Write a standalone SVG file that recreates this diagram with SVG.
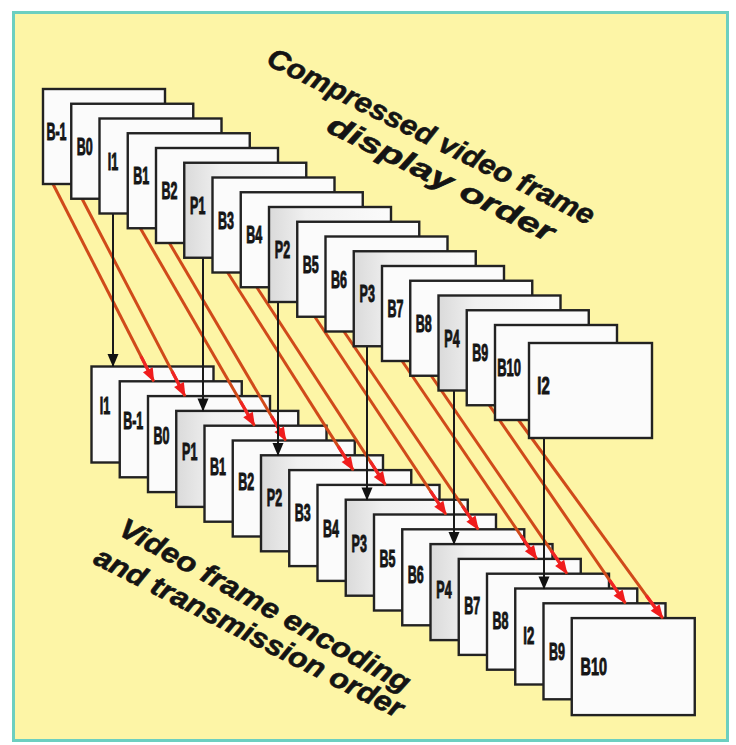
<svg xmlns="http://www.w3.org/2000/svg" width="736" height="745" viewBox="0 0 736 745">
<style>
.fr{fill:#fbfbfb;stroke:#222;stroke-width:2.4}
.fp{fill:url(#pg);stroke:#222;stroke-width:2.4}
.lb{font-family:"Liberation Sans",Arial,sans-serif;font-weight:bold;font-size:24px;fill:#151515;stroke:#151515;stroke-width:1;text-anchor:middle}
.ti{font-family:"Liberation Sans",Arial,sans-serif;font-weight:bold;font-style:italic;font-size:28px;fill:#141414;stroke:#141414;stroke-width:0.6}
.vb{stroke:#1a1a1a;stroke-width:2;marker-end:url(#ab)}
.rd{stroke:#d04a1a;stroke-width:3;marker-end:url(#ar)}
</style>
<defs>
<linearGradient id="pg" x1="0" y1="0" x2="1" y2="0">
<stop offset="0" stop-color="#dadada"/><stop offset="0.3" stop-color="#f0f0f0"/><stop offset="1" stop-color="#fbfbfb"/>
</linearGradient>
<marker id="ab" markerUnits="userSpaceOnUse" markerWidth="20" markerHeight="20" refX="0" refY="0" orient="auto" overflow="visible">
<path d="M1,0 L-12,-5.5 L-12,5.5 Z" fill="#111"/>
</marker>
<marker id="ar" markerUnits="userSpaceOnUse" markerWidth="30" markerHeight="20" refX="0" refY="0" orient="auto" overflow="visible">
<path d="M-28,-1.6 H-10 V1.6 H-28 Z" fill="#f02424"/>
<path d="M1,0 L-13,-5.5 L-13,5.5 Z" fill="#f01c1c"/>
</marker>
</defs>
<rect x="0" y="0" width="736" height="745" fill="#ffffff"/>
<rect x="13.5" y="12.5" width="714" height="728" fill="#fdf5a6" stroke="#6ccfc0" stroke-width="3"/>

<g id="bottom-row">
<g id="bot-I1"><rect class="fr" x="91.5" y="366.5" width="122" height="96"/><text class="lb" transform="translate(105,413.5) scale(0.52,1)">I1</text></g>
<g id="bot-B-1"><rect class="fr" x="119.75" y="381.3" width="122" height="96"/><text class="lb" transform="translate(133.25,428.9) scale(0.52,1)">B-1</text></g>
<g id="bot-B0"><rect class="fr" x="148" y="396.1" width="122" height="96"/><text class="lb" transform="translate(161.5,444.3) scale(0.52,1)">B0</text></g>
<g id="bot-P1"><rect class="fp" x="176.25" y="410.9" width="122" height="96"/><text class="lb" transform="translate(189.75,459.7) scale(0.52,1)">P1</text></g>
<g id="bot-B1"><rect class="fr" x="204.5" y="425.7" width="122" height="96"/><text class="lb" transform="translate(218,475.1) scale(0.52,1)">B1</text></g>
<g id="bot-B2"><rect class="fr" x="232.75" y="440.5" width="122" height="96"/><text class="lb" transform="translate(246.25,490.4) scale(0.52,1)">B2</text></g>
<g id="bot-P2"><rect class="fp" x="261" y="455.3" width="122" height="96"/><text class="lb" transform="translate(274.5,505.8) scale(0.52,1)">P2</text></g>
<g id="bot-B3"><rect class="fr" x="289.25" y="470.1" width="122" height="96"/><text class="lb" transform="translate(302.75,521.2) scale(0.52,1)">B3</text></g>
<g id="bot-B4"><rect class="fr" x="317.5" y="484.9" width="122" height="96"/><text class="lb" transform="translate(331,536.6) scale(0.52,1)">B4</text></g>
<g id="bot-P3"><rect class="fp" x="345.75" y="499.7" width="122" height="96"/><text class="lb" transform="translate(359.25,552) scale(0.52,1)">P3</text></g>
<g id="bot-B5"><rect class="fr" x="374" y="514.5" width="122" height="96"/><text class="lb" transform="translate(387.5,567.4) scale(0.52,1)">B5</text></g>
<g id="bot-B6"><rect class="fr" x="402.25" y="529.3" width="122" height="96"/><text class="lb" transform="translate(415.75,582.8) scale(0.52,1)">B6</text></g>
<g id="bot-P4"><rect class="fp" x="430.5" y="544.1" width="122" height="96"/><text class="lb" transform="translate(444,598.2) scale(0.52,1)">P4</text></g>
<g id="bot-B7"><rect class="fr" x="458.75" y="558.9" width="122" height="96"/><text class="lb" transform="translate(472.25,613.6) scale(0.52,1)">B7</text></g>
<g id="bot-B8"><rect class="fr" x="487" y="573.7" width="122" height="96"/><text class="lb" transform="translate(500.5,629) scale(0.52,1)">B8</text></g>
<g id="bot-I2"><rect class="fr" x="515.25" y="588.5" width="122" height="96"/><text class="lb" transform="translate(528.75,644.4) scale(0.55,1)">I2</text></g>
<g id="bot-B9"><rect class="fr" x="543.5" y="603.3" width="122" height="96"/><text class="lb" transform="translate(557,659.7) scale(0.52,1)">B9</text></g>
<g id="bot-B10"><rect class="fr" x="571.75" y="618.1" width="123" height="97"/><text class="lb" transform="translate(593.75,675.1) scale(0.6,1)">B10</text></g>
</g>

<g id="connectors" fill="none">
<line class="rd" x1="52" y1="182" x2="153.75" y2="381.3"/>
<line class="rd" x1="81" y1="196.75" x2="185" y2="396.1"/>
<line class="rd" x1="139.2" y1="226.25" x2="254.5" y2="425.7"/>
<line class="rd" x1="168.25" y1="241" x2="285.75" y2="440.5"/>
<line class="rd" x1="226.4" y1="270.5" x2="353.25" y2="470.1"/>
<line class="rd" x1="255.5" y1="285.25" x2="385.5" y2="484.9"/>
<line class="rd" x1="313.5" y1="314.75" x2="446" y2="514.5"/>
<line class="rd" x1="342.6" y1="329.5" x2="478.25" y2="529.3"/>
<line class="rd" x1="400.75" y1="359" x2="536.75" y2="558.9"/>
<line class="rd" x1="429.85" y1="373.75" x2="567" y2="573.7"/>
<line class="rd" x1="487.95" y1="403.25" x2="625.5" y2="603.3"/>
<line class="rd" x1="517" y1="418" x2="662.75" y2="618.1"/>
<line class="vb" x1="113" y1="212" x2="113" y2="366"/>
<line class="vb" x1="203" y1="256" x2="203" y2="410.5"/>
<line class="vb" x1="278" y1="300" x2="278" y2="455"/>
<line class="vb" x1="367" y1="345" x2="367" y2="499.5"/>
<line class="vb" x1="454" y1="389" x2="454" y2="544"/>
<line class="vb" x1="544" y1="437" x2="544" y2="588.5"/>
</g>

<g id="top-row">
<g id="top-B-1"><rect class="fr" x="43" y="89" width="122" height="95"/><text class="lb" transform="translate(56.5,140) scale(0.52,1)">B-1</text></g>
<g id="top-B0"><rect class="fr" x="71.25" y="103.75" width="122" height="95"/><text class="lb" transform="translate(84.75,154.75) scale(0.52,1)">B0</text></g>
<g id="top-I1"><rect class="fr" x="99.5" y="118.5" width="122" height="95"/><text class="lb" transform="translate(113,169.5) scale(0.52,1)">I1</text></g>
<g id="top-B1"><rect class="fr" x="127.75" y="133.25" width="122" height="95"/><text class="lb" transform="translate(141.25,184.25) scale(0.52,1)">B1</text></g>
<g id="top-B2"><rect class="fr" x="156" y="148" width="122" height="95"/><text class="lb" transform="translate(169.5,199) scale(0.52,1)">B2</text></g>
<g id="top-P1"><rect class="fp" x="184.25" y="162.75" width="122" height="95"/><text class="lb" transform="translate(197.75,213.75) scale(0.52,1)">P1</text></g>
<g id="top-B3"><rect class="fr" x="212.5" y="177.5" width="122" height="95"/><text class="lb" transform="translate(226,228.5) scale(0.52,1)">B3</text></g>
<g id="top-B4"><rect class="fr" x="240.75" y="192.25" width="122" height="95"/><text class="lb" transform="translate(254.25,243.25) scale(0.52,1)">B4</text></g>
<g id="top-P2"><rect class="fp" x="269" y="207" width="122" height="95"/><text class="lb" transform="translate(282.5,258) scale(0.52,1)">P2</text></g>
<g id="top-B5"><rect class="fr" x="297.25" y="221.75" width="122" height="95"/><text class="lb" transform="translate(310.75,272.75) scale(0.52,1)">B5</text></g>
<g id="top-B6"><rect class="fr" x="325.5" y="236.5" width="122" height="95"/><text class="lb" transform="translate(339,287.5) scale(0.52,1)">B6</text></g>
<g id="top-P3"><rect class="fp" x="353.75" y="251.25" width="122" height="95"/><text class="lb" transform="translate(367.25,302.25) scale(0.52,1)">P3</text></g>
<g id="top-B7"><rect class="fr" x="382" y="266" width="122" height="95"/><text class="lb" transform="translate(395.5,317) scale(0.52,1)">B7</text></g>
<g id="top-B8"><rect class="fr" x="410.25" y="280.75" width="122" height="95"/><text class="lb" transform="translate(423.75,331.75) scale(0.52,1)">B8</text></g>
<g id="top-P4"><rect class="fp" x="438.5" y="295.5" width="122" height="95"/><text class="lb" transform="translate(452,346.5) scale(0.52,1)">P4</text></g>
<g id="top-B9"><rect class="fr" x="466.75" y="310.25" width="122" height="95"/><text class="lb" transform="translate(480.25,361.25) scale(0.52,1)">B9</text></g>
<g id="top-B10"><rect class="fr" x="495" y="325" width="122" height="95"/><text class="lb" transform="translate(509,376) scale(0.54,1)">B10</text></g>
<g id="top-I2"><rect class="fr" x="529" y="343" width="123" height="95"/><text class="lb" transform="translate(543.5,394) scale(0.62,1)">I2</text></g>
</g>

<g id="titles">
<text class="ti" transform="translate(265,64) rotate(26.5)" textLength="362" lengthAdjust="spacingAndGlyphs">Compressed video frame</text>
<text class="ti" transform="translate(325,131) rotate(26.5)" textLength="250" lengthAdjust="spacingAndGlyphs">display order</text>
<text class="ti" transform="translate(117,534) rotate(29)" textLength="328" lengthAdjust="spacingAndGlyphs">Video frame encoding</text>
<text class="ti" transform="translate(92,563) rotate(27)" textLength="343" lengthAdjust="spacingAndGlyphs">and transmission order</text>
</g>
</svg>
